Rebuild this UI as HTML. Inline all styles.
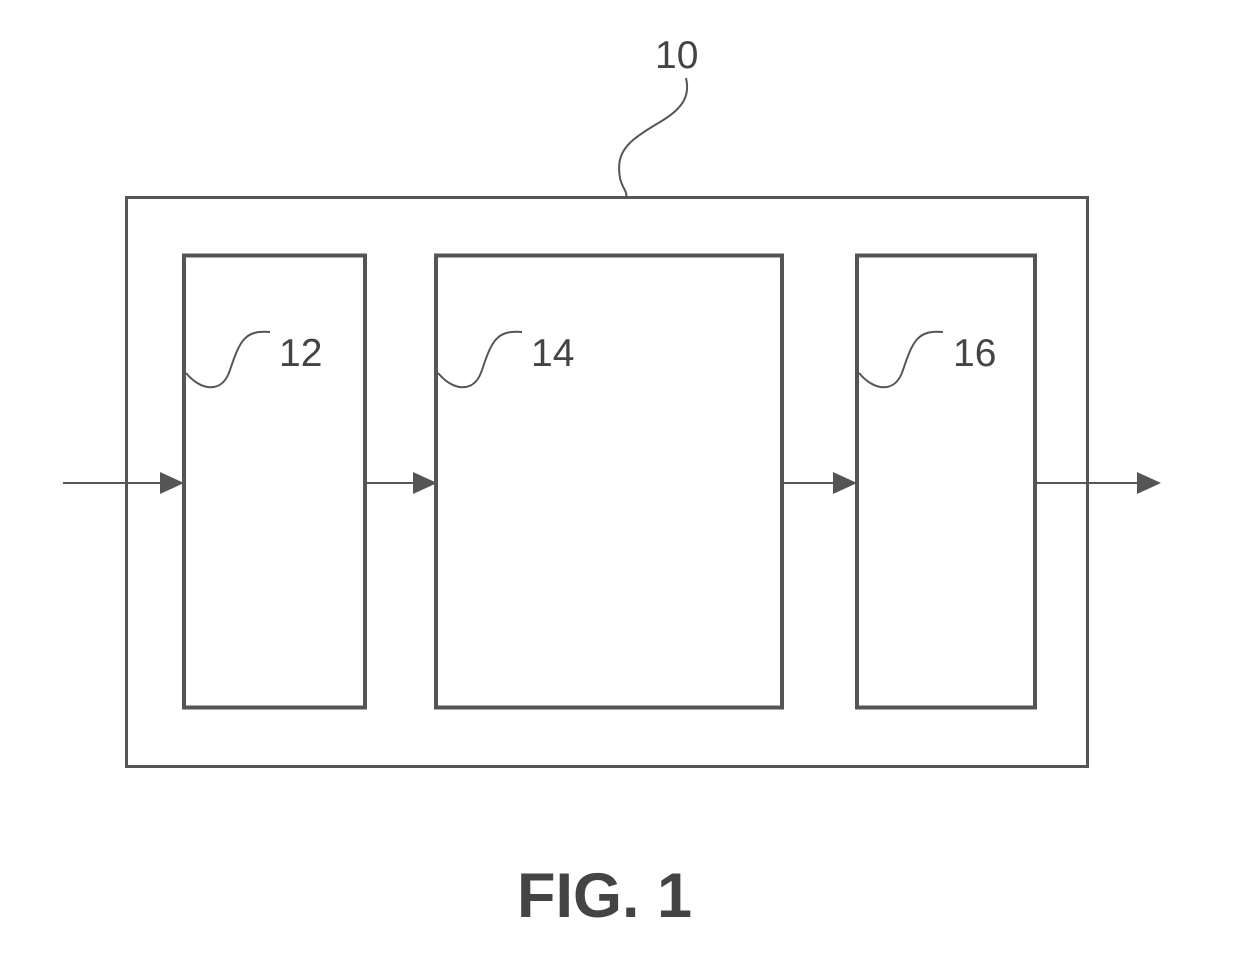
<!DOCTYPE html>
<html><head><style>
html,body{margin:0;padding:0;background:#fff;}
svg{display:block;}
text{font-family:"Liberation Sans",sans-serif;fill:#444;}
</style></head><body>
<svg width="1240" height="961" viewBox="0 0 1240 961">
<g fill="none" stroke="#555">
<rect x="126.5" y="197.5" width="961" height="569" stroke-width="3"/>
<rect x="184" y="255.5" width="181" height="452" stroke-width="4"/>
<rect x="436" y="255.5" width="346" height="452" stroke-width="4"/>
<rect x="857" y="255.5" width="178" height="452" stroke-width="4"/>
<g stroke-width="2">
<line x1="63" y1="483" x2="165" y2="483"/>
<line x1="367" y1="483" x2="418" y2="483"/>
<line x1="784" y1="483" x2="838" y2="483"/>
<line x1="1037" y1="483" x2="1142" y2="483"/>
<path d="M686 78 C690 95 684 108 660 122 C630 140 615 150 620 178 C622 188 628 192 626 197"/>
<path d="M186 373 C200 390 222 395 230 370 C240 340 245 330 270 332"/>
<path d="M438 373 C452 390 474 395 482 370 C492 340 497 330 522 332"/>
<path d="M859 373 C873 390 895 395 903 370 C913 340 918 330 943 332"/>
</g>
</g>
<g fill="#555">
<polygon points="160,472 184,483 160,494"/>
<polygon points="413,472 437,483 413,494"/>
<polygon points="833,472 857,483 833,494"/>
<polygon points="1137,472 1161,483 1137,494"/>
</g>
<text x="655" y="68" font-size="39">10</text>
<text x="279" y="366" font-size="39">12</text>
<text x="531" y="366" font-size="39">14</text>
<text x="953" y="366" font-size="39">16</text>
<text x="517" y="917" font-size="63" font-weight="bold">FIG. 1</text>
</svg>
</body></html>
